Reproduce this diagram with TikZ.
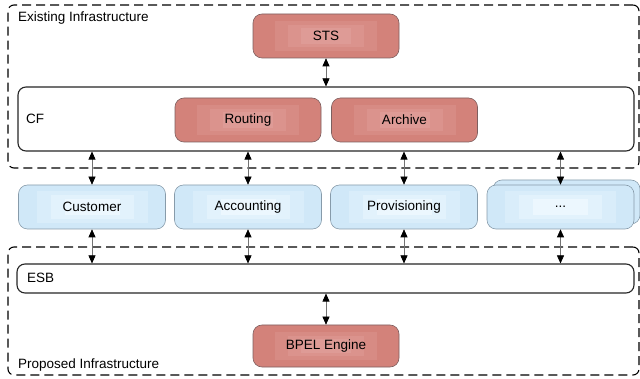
\documentclass[tikz,border=0pt]{standalone}
\usepackage{fontspec}
\setmainfont{Liberation Sans}
\usetikzlibrary{arrows.meta}
\definecolor{redA}{RGB}{211,130,122}
\definecolor{redB}{RGB}{215,139,132}
\definecolor{redC}{RGB}{219,147,141}
\definecolor{redD}{RGB}{222,155,150}
\definecolor{redLine}{RGB}{125,95,95}
\definecolor{bluA}{RGB}{208,232,248}
\definecolor{bluB}{RGB}{217,237,250}
\definecolor{bluC}{RGB}{226,242,252}
\definecolor{bluD}{RGB}{236,247,254}
\definecolor{bluLine}{RGB}{135,155,170}
\tikzset{
  x=1pt, y=-1pt,
  txt/.style={font=\fontsize{13.5}{15}\selectfont, text=black},
  groupbox/.style={draw=black, line width=1.1pt, dash pattern=on 9pt off 5pt, rounded corners=6pt, inner sep=0pt},
  layerbox/.style={draw=black!85, line width=1.1pt, rounded corners=8pt, fill=white, inner sep=0pt},
  redbox/.style={txt, draw=redLine, line width=0.6pt, rounded corners=9pt, fill=redA, inner sep=0pt,
    minimum width=146pt, minimum height=44pt,
    path picture={
      \fill[redB, sharp corners] ([xshift=22pt,yshift=7pt]path picture bounding box.south west) rectangle ([xshift=-22pt,yshift=-7pt]path picture bounding box.north east);
      \fill[redC, sharp corners] ([xshift=35pt,yshift=11pt]path picture bounding box.south west) rectangle ([xshift=-35pt,yshift=-11pt]path picture bounding box.north east);
      \fill[redD, sharp corners] ([xshift=48pt,yshift=14pt]path picture bounding box.south west) rectangle ([xshift=-48pt,yshift=-14pt]path picture bounding box.north east);
    }},
  bluebox/.style={txt, draw=bluLine, line width=0.6pt, rounded corners=9pt, fill=bluA, inner sep=0pt,
    minimum width=147pt, minimum height=44pt,
    path picture={
      \fill[bluB, sharp corners] ([xshift=18pt,yshift=6pt]path picture bounding box.south west) rectangle ([xshift=-18pt,yshift=-6pt]path picture bounding box.north east);
      \fill[bluC, sharp corners] ([xshift=32pt,yshift=10pt]path picture bounding box.south west) rectangle ([xshift=-32pt,yshift=-10pt]path picture bounding box.north east);
      \fill[bluD, sharp corners] ([xshift=46pt,yshift=14pt]path picture bounding box.south west) rectangle ([xshift=-46pt,yshift=-14pt]path picture bounding box.north east);
    }},
  link/.style={draw=black!55, line width=0.6pt, {Triangle[width=7pt,length=8pt,fill=black,color=black]}-{Triangle[width=7pt,length=8pt,fill=black,color=black]}},
  label/.style={txt, anchor=west, inner sep=0pt}
}
\begin{document}
\begin{tikzpicture}
\useasboundingbox (0,0) rectangle (640,379);
% group boxes
\node[groupbox, minimum width=631pt, minimum height=163pt] (existing) at (323.5,86.5) {};
\node[groupbox, minimum width=631pt, minimum height=128pt] (proposed) at (323.5,311) {};
\node[label] (existingLbl) at (18,18) {Existing Infrastructure};
\node[label] (proposedLbl) at (18,365) {Proposed Infrastructure};
% CF layer
\node[layerbox, minimum width=616pt, minimum height=64pt] (cf) at (326,119) {};
\node[label] (cfLbl) at (26,119) {CF};
\node[redbox] (sts) at (326,36) {STS};
\node[redbox] (routing) at (248,120) {Routing};
\node[redbox] (archive) at (404.5,120) {Archive};
% services
\node[bluebox] (customer) at (92,207) {Customer};
\node[bluebox] (accounting) at (248,207) {Accounting};
\node[bluebox] (provisioning) at (404,207) {Provisioning};
\node[bluebox] (moreBack) at (566.5,202) {};
\node[bluebox] (more) at (560.5,207) {...};
% ESB layer
\node[layerbox, minimum width=617pt, minimum height=29pt] (esb) at (325.5,278.5) {};
\node[label] (esbLbl) at (27,278) {ESB};
\node[redbox, minimum height=42pt] (bpel) at (326,346) {BPEL Engine};
% links
\draw[link] (sts.south) -- (cf.north);
\draw[link] (cf.south -| customer.north) -- (customer.north);
\draw[link] (cf.south -| accounting.north) -- (accounting.north);
\draw[link] (cf.south -| provisioning.north) -- (provisioning.north);
\draw[link] (cf.south -| more.north) -- (more.north);
\draw[link] (customer.south) -- (esb.north -| customer.south);
\draw[link] (accounting.south) -- (esb.north -| accounting.south);
\draw[link] (provisioning.south) -- (esb.north -| provisioning.south);
\draw[link] (more.south) -- (esb.north -| more.south);
\draw[link] (esb.south -| bpel.north) -- (bpel.north);
\end{tikzpicture}
\end{document}
